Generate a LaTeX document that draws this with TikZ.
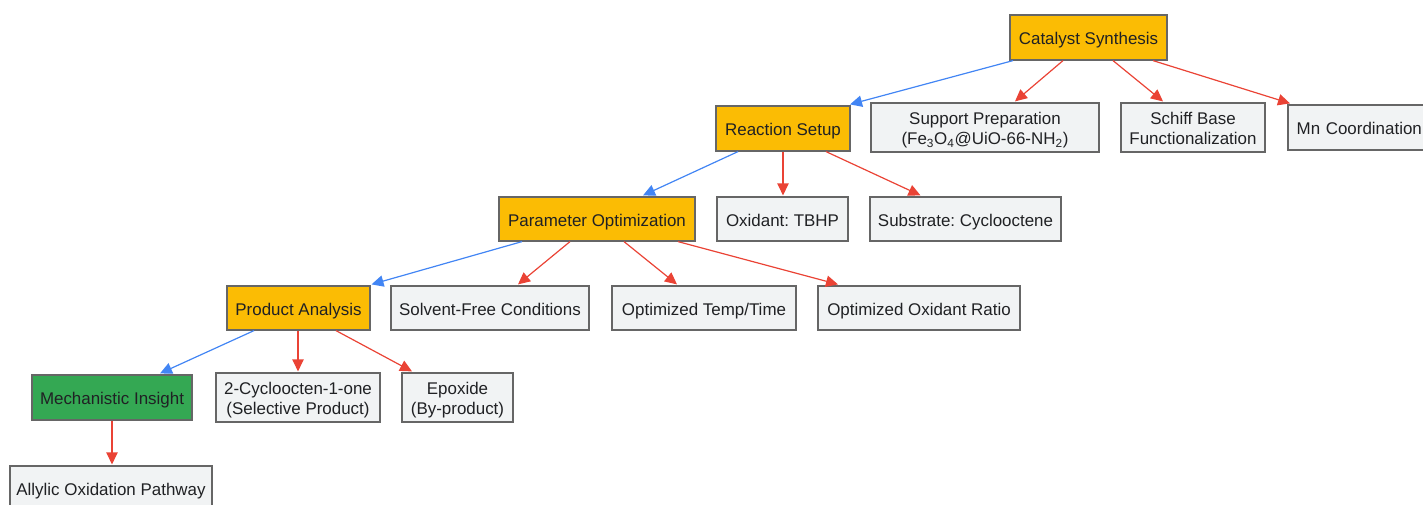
\documentclass[tikz,border=0pt]{standalone}
\usepackage{fontspec}
\setmainfont{Liberation Sans}
\usetikzlibrary{arrows.meta,calc}
\definecolor{orgfill}{HTML}{FBBC04}
\definecolor{grfill}{HTML}{F1F3F4}
\definecolor{gnfill}{HTML}{34A853}
\definecolor{bord}{HTML}{666666}
\definecolor{txt}{HTML}{202124}
\definecolor{blueedge}{HTML}{4285F4}
\definecolor{rededge}{HTML}{EA4335}
\frenchspacing
\newcommand\twolines[2]{\rule{0pt}{14pt}#1\\#2\rule[-3pt]{0pt}{3pt}}
\tikzset{
  base/.style={draw=bord, line width=0.9pt, inner sep=0pt, align=center, text=txt,
    font=\fontsize{12.7pt}{15pt}\selectfont},
  one/.style={text height=10.5pt, text depth=0pt},
  orgbox/.style={base, fill=orgfill},
  grbox/.style={base, fill=grfill},
  gnbox/.style={base, fill=gnfill},
  sz/.style n args={2}{minimum width=#1pt, minimum height=#2pt},
  spine/.style={draw=blueedge, line width=0.9pt, -{Triangle[length=9pt,width=8.5pt]}},
  leaf/.style={draw=rededge, line width=0.9pt, -{Triangle[length=9pt,width=8.5pt]}},
}
\begin{document}
\begin{tikzpicture}[x=0.75pt, y=-0.75pt]
\useasboundingbox (0,0) rectangle (1423,504);
\clip (0,0) rectangle (1423,504);
% nodes
\node[orgbox, one, sz={117.75}{33.75}] (cat) at (1088.5,37.5) {Catalyst Synthesis};
\node[orgbox, one, sz={100.5}{33.75}] (rs) at (783,128.5) {Reaction Setup};
\node[grbox, sz={171}{36.75}] (sp) at (985,127.5) {\twolines{Support Preparation}{(Fe\textsubscript{3}O\textsubscript{4}@UiO-66-NH\textsubscript{2})}};
\node[grbox, sz={108}{36.75}] (sb) at (1193,127.5) {\twolines{Schiff Base}{Functionalization}};
\node[grbox, one, sz={105}{33.75}, text width=100pt, align=left] (mn) at (1358,127.5) {\hspace*{4pt}Mn Coordination};
\node[orgbox, one, sz={147}{33}] (po) at (597,219) {Parameter Optimization};
\node[grbox, one, sz={98.25}{33}] (ox) at (782.5,219) {Oxidant: TBHP};
\node[grbox, one, sz={143.25}{33}] (su) at (965.5,219) {Substrate: Cyclooctene};
\node[orgbox, one, sz={107.25}{33}] (pa) at (298.5,308) {Product Analysis};
\node[grbox, one, sz={148.5}{33}] (sf) at (490,308) {Solvent-Free Conditions};
\node[grbox, one, sz={138}{33}] (tt) at (704,308) {Optimized Temp/Time};
\node[grbox, one, sz={151.5}{33}] (or) at (919,308) {Optimized Oxidant Ratio};
\node[gnbox, one, sz={120}{33.75}] (mi) at (112,397.5) {Mechanistic Insight};
\node[grbox, sz={123}{36.75}] (cy) at (298,397.5) {\twolines{2-Cycloocten-1-one}{(Selective Product)}};
\node[grbox, sz={83.25}{36.75}] (ep) at (457.5,397.5) {\twolines{Epoxide}{(By-product)}};
\node[grbox, one, sz={151.5}{33.75}] (al) at (111,488.5) {Allylic Oxidation Pathway};
% edges
\draw[spine] ($(cat.south)+(-75.5,0)$) -- ($(rs.north)+(67,-1)$);
\draw[leaf]  ($(cat.south)+(-25.5,0)$) -- ($(sp.north)+(30,-1)$);
\draw[leaf]  ($(cat.south)+(24.5,0)$) -- ($(sb.north)+(-30,-1)$);
\draw[leaf]  ($(cat.south)+(64.5,0)$) -- ($(mn.north)+(-68,-1)$);
\draw[spine] ($(rs.south)+(-45,0)$) -- ($(po.north)+(46,-1)$);
\draw[leaf]  (rs.south) -- ($(ox.north)+(0.5,-1)$);
\draw[leaf]  ($(rs.south)+(43,0)$) -- ($(su.north)+(-45,-1)$);
\draw[spine] ($(po.south)+(-75,0)$) -- ($(pa.north)+(73,-1)$);
\draw[leaf]  ($(po.south)+(-27,0)$) -- ($(sf.north)+(28,-1)$);
\draw[leaf]  ($(po.south)+(27,0)$) -- ($(tt.north)+(-27,-1)$);
\draw[leaf]  ($(po.south)+(81,0)$) -- ($(or.north)+(-81,-1)$);
\draw[spine] ($(pa.south)+(-44.5,0)$) -- ($(mi.north)+(48,-1)$);
\draw[leaf]  ($(pa.south)+(-0.5,0)$) -- ($(cy.north)+(0,-1)$);
\draw[leaf]  ($(pa.south)+(37.5,0)$) -- ($(ep.north)+(-45.5,-1)$);
\draw[leaf]  (mi.south) -- ($(al.north)+(1,-1)$);
\end{tikzpicture}
\end{document}
